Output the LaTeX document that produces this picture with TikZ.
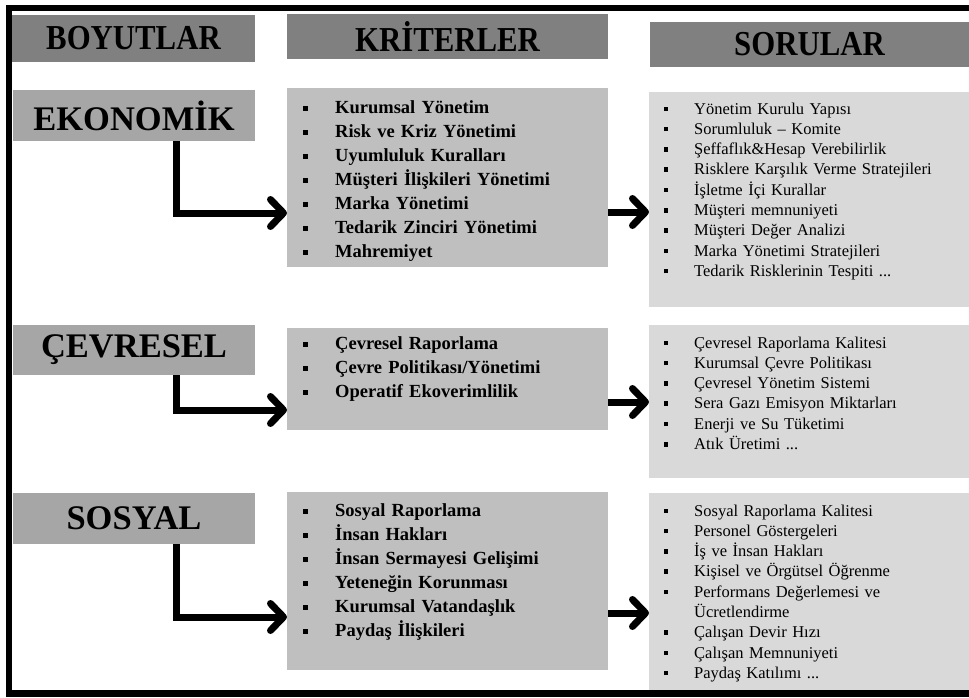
\documentclass[tikz,border=0pt]{standalone}
\usepackage{fontspec}
\setmainfont{Liberation Serif}
\newfontfamily\baslikfont[FakeStretch=0.88]{Liberation Serif}
\usepackage{tikz}
\usetikzlibrary{
	calc,
	arrows.meta,
}
\definecolor{baslikgri}{gray}{0.5}
\definecolor{boyutgri}{gray}{0.65}
\definecolor{kritergri}{gray}{0.75}
\definecolor{sorugri}{gray}{0.85}
\newcommand{\kmadde}{\makebox[32pt][l]{\raisebox{3pt}{\rule{4.5pt}{5pt}}}}
\newcommand{\smadde}{\makebox[30pt][l]{\raisebox{3pt}{\rule{4pt}{4.5pt}}}}
\tikzset{
	kutu/.style={fill=#1, inner sep=0pt, outer sep=0pt},
	baslikyazi/.style={font=\baslikfont\fontsize{35}{36}\selectfont\bfseries},
	boyutyazi/.style={font=\fontsize{34.5}{36}\selectfont\bfseries},
	kriterliste/.style={font=\fontsize{18.5}{24}\selectfont\bfseries, text width=300pt, align=left, inner sep=0pt, anchor=base west},
	soruliste/.style={font=\fontsize{16.5}{20.3}\selectfont, text width=310pt, align=left, inner sep=0pt, anchor=base west},
	kalinok/.style={line width=7pt, -{Straight Barb[length=13pt,width=27pt,round]}},
}

\begin{document}
\begin{tikzpicture}[x=1pt,y=-1pt]
\useasboundingbox (0,0) rectangle (969,697);
\draw[line width=6.5pt] (969,8) -- (9,8) -- (9,693.5) -- (969,693.5);

\node[kutu=baslikgri, minimum width=243pt, minimum height=47pt, baslikyazi] (boyutlar) at (133.5,38.5) {BOYUTLAR};
\node[kutu=baslikgri, minimum width=321pt, minimum height=45pt, baslikyazi] (kriterler) at (447.5,36.5) {KRİTERLER};
\node[kutu=baslikgri, minimum width=319pt, minimum height=45pt, baslikyazi] (sorular) at (809.5,44.5) {SORULAR};

\node[kutu=boyutgri, minimum width=242pt, minimum height=51pt, boyutyazi] (eko) at (134,115.5) {EKONOMİK};
\node[kutu=boyutgri, minimum width=242pt, minimum height=50pt, boyutyazi] (cev) at (134,350) {ÇEVRESEL};
\node[kutu=boyutgri, minimum width=242pt, minimum height=51pt, boyutyazi] (sos) at (134,518.5) {SOSYAL};

\node[kutu=kritergri, minimum width=321pt, minimum height=179pt] (k1) at (447.5,177.5) {};
\node[kutu=kritergri, minimum width=321pt, minimum height=102pt] (k2) at (447.5,379) {};
\node[kutu=kritergri, minimum width=321pt, minimum height=178pt] (k3) at (447.5,581) {};

\node[kutu=sorugri, minimum width=320pt, minimum height=215pt] (s1) at (809,199.5) {};
\node[kutu=sorugri, minimum width=320pt, minimum height=153pt] (s2) at (809,401.5) {};
\node[kutu=sorugri, minimum width=320pt, minimum height=197pt] (s3) at (809,591.5) {};

\node[kriterliste] (k1l) at (303,113.5) {\kmadde Kurumsal Yönetim\\
	\kmadde Risk ve Kriz Yönetimi\\
	\kmadde Uyumluluk Kuralları\\
	\kmadde Müşteri İlişkileri Yönetimi\\
	\kmadde Marka Yönetimi\\
	\kmadde Tedarik Zinciri Yönetimi\\
	\kmadde Mahremiyet};
\node[kriterliste] (k2l) at (303,349.5) {\kmadde Çevresel Raporlama\\
	\kmadde Çevre Politikası/Yönetimi\\
	\kmadde Operatif Ekoverimlilik};
\node[kriterliste] (k3l) at (303,516.5) {\kmadde Sosyal Raporlama\\
	\kmadde İnsan Hakları\\
	\kmadde İnsan Sermayesi Gelişimi\\
	\kmadde Yeteneğin Korunması\\
	\kmadde Kurumsal Vatandaşlık\\
	\kmadde Paydaş İlişkileri};

\node[soruliste] (s1l) at (664,114) {\smadde Yönetim Kurulu Yapısı\\
	\smadde Sorumluluk – Komite\\
	\smadde Şeffaflık\&Hesap Verebilirlik\\
	\smadde Risklere Karşılık Verme Stratejileri\\
	\smadde İşletme İçi Kurallar\\
	\smadde Müşteri memnuniyeti\\
	\smadde Müşteri Değer Analizi\\
	\smadde Marka Yönetimi Stratejileri\\
	\smadde Tedarik Risklerinin Tespiti ...};
\node[soruliste] (s2l) at (664,348) {\smadde Çevresel Raporlama Kalitesi\\
	\smadde Kurumsal Çevre Politikası\\
	\smadde Çevresel Yönetim Sistemi\\
	\smadde Sera Gazı Emisyon Miktarları\\
	\smadde Enerji ve Su Tüketimi\\
	\smadde Atık Üretimi ...};
\node[soruliste] (s3l) at (664,516) {\smadde Sosyal Raporlama Kalitesi\\
	\smadde Personel Göstergeleri\\
	\smadde İş ve İnsan Hakları\\
	\smadde Kişisel ve Örgütsel Öğrenme\\
	\smadde Performans Değerlemesi ve\\
	\makebox[30pt]{}Ücretlendirme\\
	\smadde Çalışan Devir Hızı\\
	\smadde Çalışan Memnuniyeti\\
	\smadde Paydaş Katılımı ...};

\draw[kalinok] (eko.south -| 176,0) |- (k1.west |- 0,213);
\draw[kalinok] (cev.south -| 176,0) |- (k2.west |- 0,410);
\draw[kalinok] (sos.south -| 176,0) |- (k3.west |- 0,617);
\draw[kalinok] (k1.east |- 0,212) -- (s1.west |- 0,212);
\draw[kalinok] (k2.east |- 0,402) -- (s2.west |- 0,402);
\draw[kalinok] (k3.east |- 0,613) -- (s3.west |- 0,613);
\end{tikzpicture}
\end{document}
